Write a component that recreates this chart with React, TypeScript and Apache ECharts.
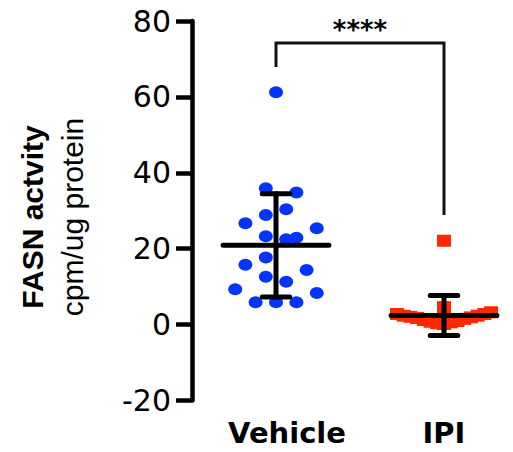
import React, { useEffect, useRef } from 'react';
import * as echarts from 'echarts';

// ---- data ----
const groups = ['Vehicle', 'IPI'];
const vehicleValues = [61.2, 35.9, 34.8, 30.4, 28.9, 26.7, 25.4, 23.3, 22.5, 22.9, 17.7, 15.8, 14.4, 12.6, 11.3, 9.3, 8.3, 5.9, 5.9, 5.9];
const vehicleSlots = [0, -1, 2, 1, -1, -3, 4, -1, 1, 2, -1, -3, 3, -1, 1, -4, 4, -2, 0, 2];
const ipiValues = [2.8, 2.35, 2.05, 1.75, 1.2, 0.75, 0.35, 0.15, 0.6, 0.95, 1.5, 1.9, 2.35, 2.8, 3.25, 4.6, 22.1];
const ipiSlots = [-7, -6, -5, -4, -3, -2, -1, 0, 1, 2, 3, 4, 5, 6, 7, 0, 0];
const groupMeans = [20.9, 2.4];
const groupSDs = [13.6, 5.3];
const sigPair = [0, 1];
const sigLevels = [74.2, 67.9, 28.9]; // bracket top, left leg end, right leg end
const sigLabel = '****';
const yTitle = 'FASN actvity';
const ySubTitle = 'cpm/ug protein';
const yMin = -20;
const yMax = 80;
const yStep = 20;

// ---- layout constants ----
const VEH_STEP = 0.0607;
const IPI_STEP = 0.04;
const MEAN_HALF = 0.315;
const CAP_HALF = 13.75;
const ELLIPSE = 'path://M0 6A6 6 0 1 1 12 6A6 6 0 1 1 0 6Z';

export default function App() {
  const ref = useRef<HTMLDivElement>(null);
  useEffect(() => {
    document.body.style.margin = '0';
    if (!ref.current) return;
    const chart = echarts.init(ref.current, undefined, { renderer: 'svg' });
    const vehData = vehicleValues.map((v, i) => [0 + vehicleSlots[i] * VEH_STEP, v]);
    const ipiData = ipiValues.map((v, i) => [1 + ipiSlots[i] * IPI_STEP, v]);
    const barData = groupMeans.map((m, i) => [i, m, groupSDs[i]]);
    const barStyle = { stroke: '#000', lineWidth: 5, lineCap: 'round' };
    chart.setOption({
      animation: false,
      grid: { left: 192, top: 21, width: 319.2, height: 379.5, containLabel: false },
      xAxis: {
        type: 'value',
        min: -0.5,
        max: 1.4,
        axisLine: { show: false, onZero: false },
        axisTick: { show: false },
        splitLine: { show: false },
        axisLabel: {
          customValues: [0, 1],
          margin: 18,
          formatter: (v: number) => {
            const i = Math.round(v);
            return i === 0 ? '{a|' + groups[0] + '}' : '{b|' + groups[1] + '}';
          },
          rich: {
            a: { fontFamily: 'DejaVu Sans', fontWeight: 'bold', fontSize: 29, color: '#000', lineHeight: 29, padding: [0, 0, 0, 22] },
            b: { fontFamily: 'DejaVu Sans', fontWeight: 'bold', fontSize: 29, color: '#000', lineHeight: 29 },
          },
        },
      },
      yAxis: {
        type: 'value',
        min: yMin,
        max: yMax,
        interval: yStep,
        splitLine: { show: false },
        axisLine: { show: true, onZero: false, lineStyle: { color: '#000', width: 4.5 } },
        axisTick: { show: true, length: 16, lineStyle: { color: '#000', width: 4.5 } },
        axisLabel: { color: '#000', fontFamily: 'DejaVu Sans', fontSize: 30, margin: 21 },
      },
      graphic: [
        {
          type: 'text', x: 32, y: 217, rotation: Math.PI / 2,
          style: { text: yTitle, fontFamily: 'Liberation Sans', fontWeight: 'bold', fontSize: 30, fill: '#000', align: 'center', verticalAlign: 'middle', textAlign: 'center', textVerticalAlign: 'middle' },
        },
        {
          type: 'text', x: 72, y: 217, rotation: Math.PI / 2,
          style: { text: ySubTitle, fontFamily: 'Liberation Sans', fontSize: 30, fill: '#000', align: 'center', verticalAlign: 'middle', textAlign: 'center', textVerticalAlign: 'middle' },
        },
      ],
      series: [
        {
          type: 'scatter', data: vehData, symbol: ELLIPSE, symbolSize: [14, 12],
          itemStyle: { color: '#0035ff', opacity: 1 }, z: 2,
        },
        {
          type: 'scatter', data: ipiData, symbol: 'rect', symbolSize: [14, 12],
          itemStyle: { color: '#ff2800', opacity: 1 }, z: 2,
        },
        {
          type: 'custom', z: 5, data: barData, encode: { x: 0, y: 1 },
          renderItem: (params: any, api: any) => {
            const x = api.value(0), m = api.value(1), s = api.value(2);
            const c = api.coord([x, m]);
            const yt = api.coord([x, m + s])[1];
            const yb = api.coord([x, m - s])[1];
            const half = api.size([MEAN_HALF, 0])[0];
            return {
              type: 'group', children: [
                { type: 'line', shape: { x1: c[0], y1: yt, x2: c[0], y2: yb }, style: barStyle },
                { type: 'line', shape: { x1: c[0] - CAP_HALF, y1: yt, x2: c[0] + CAP_HALF, y2: yt }, style: barStyle },
                { type: 'line', shape: { x1: c[0] - CAP_HALF, y1: yb, x2: c[0] + CAP_HALF, y2: yb }, style: barStyle },
                { type: 'line', shape: { x1: c[0] - half, y1: c[1], x2: c[0] + half, y2: c[1] }, style: barStyle },
              ],
            };
          },
        },
        {
          type: 'custom', z: 5, data: [[sigPair[0], sigPair[1], sigLevels[0], sigLevels[1], sigLevels[2]]],
          encode: { x: [0, 1], y: [2, 3, 4] },
          renderItem: (params: any, api: any) => {
            const a = api.value(0), b = api.value(1);
            const top = api.value(2), le = api.value(3), re = api.value(4);
            const p1 = api.coord([a, le]);
            const p2 = api.coord([a, top]);
            const p3 = api.coord([b, top]);
            const p4 = api.coord([b, re]);
            return {
              type: 'group', children: [
                { type: 'polyline', shape: { points: [p1, p2, p3, p4] }, style: { stroke: '#111', lineWidth: 3, fill: 'none', lineJoin: 'miter' } },
                {
                  type: 'text', x: (p2[0] + p3[0]) / 2, y: p2[1] - 13,
                  style: { text: sigLabel, fontFamily: 'DejaVu Sans', fontWeight: 'bold', fontSize: 26, fill: '#000', align: 'center', verticalAlign: 'middle', textAlign: 'center', textVerticalAlign: 'middle' },
                },
              ],
            };
          },
        },
      ],
    });
    return () => chart.dispose();
  }, []);
  return <div ref={ref} style={{ width: 513, height: 452 }} />;
}
